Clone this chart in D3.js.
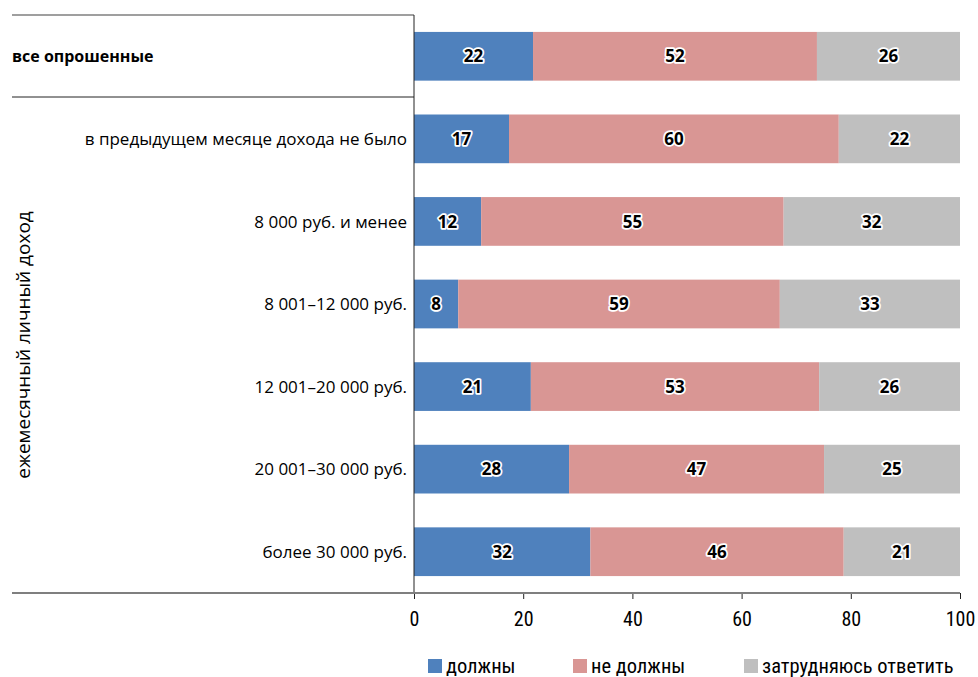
<!DOCTYPE html>
<html>
<head>
<meta charset="utf-8">
<script src="https://cdn.jsdelivr.net/npm/d3@7"></script>
<style>
  body { margin: 0; background: #fff; }
  text { font-family: "Open Sans", "Noto Sans", sans-serif; }
  .narrow { font-family: "Liberation Sans Narrow", "Roboto Condensed", sans-serif; }
</style>
</head>
<body>
<div class="chart"></div>
<script>
// categories (top to bottom)
const categories = [
  "все опрошенные",
  "в предыдущем месяце дохода не было",
  "8 000 руб. и менее",
  "8 001–12 000 руб.",
  "12 001–20 000 руб.",
  "20 001–30 000 руб.",
  "более 30 000 руб."
];
const seriesNames = ["должны", "не должны", "затрудняюсь ответить"];
const dolzhny    = [21.8, 17.4, 12.3, 8.1, 21.4, 28.4, 32.3];
const neDolzhny  = [52.0, 60.4, 55.4, 58.9, 52.8, 46.7, 46.4];
const zatrudn    = [26.2, 22.2, 32.3, 33.0, 25.8, 24.9, 21.3];
const xTicks = [0, 20, 40, 60, 80, 100];
const groupLabel = "ежемесячный личный доход";

const colors = ["#4f81bd", "#d99694", "#bfbfbf"];

const W = 978, H = 677;
const x0 = 414, x1 = 960, yTop = 15, yBot = 593;

const svg = d3.select(".chart")
  .append("svg")
    .attr("width", W)
    .attr("height", H);

const x = d3.scaleLinear().domain([0, 100]).range([x0, x1]);
const y = d3.scaleBand().domain(categories).range([yTop, yBot]).paddingInner(0.41).paddingOuter(0.205);

// build stacked data
const rows = categories.map((c, i) => ({cat: c, a: dolzhny[i], b: neDolzhny[i], c: zatrudn[i]}));
const stack = d3.stack().keys(["a", "b", "c"])(rows);

// bars
stack.forEach((layer, li) => {
  svg.append("g")
    .selectAll("rect")
    .data(layer)
    .enter()
    .append("rect")
      .attr("x", d => x(d[0]))
      .attr("y", d => y(d.data.cat))
      .attr("width", d => x(d[1]) - x(d[0]))
      .attr("height", y.bandwidth())
      .attr("fill", colors[li]);
});

// value labels with white halo
stack.forEach((layer) => {
  svg.append("g")
    .selectAll("text")
    .data(layer)
    .enter()
    .append("text")
      .attr("x", d => x((d[0] + d[1]) / 2))
      .attr("y", d => y(d.data.cat) + y.bandwidth() / 2)
      .attr("dy", "0.36em")
      .attr("text-anchor", "middle")
      .style("font-size", "17px")
      .style("font-weight", "bold")
      .style("fill", "#000")
      .style("stroke", "#fff")
      .style("stroke-width", "3.5px")
      .style("stroke-linejoin", "round")
      .style("paint-order", "stroke")
      .text(d => d3.format(".0f")(d[1] - d[0]));
});

// frame lines
svg.append("line")
  .attr("x1", 12).attr("x2", x0).attr("y1", yTop).attr("y2", yTop)
  .attr("stroke", "#7f7f7f").attr("stroke-width", 1.5);
svg.append("line")
  .attr("x1", 12).attr("x2", x0).attr("y1", 97).attr("y2", 97)
  .attr("stroke", "#222").attr("stroke-width", 1);
svg.append("line")
  .attr("x1", x0).attr("x2", x0).attr("y1", yTop).attr("y2", yBot)
  .attr("stroke", "#222").attr("stroke-width", 1);

// x axis
const xAxis = svg.append("g")
  .attr("transform", "translate(0," + yBot + ")")
  .call(d3.axisBottom(x).tickValues(xTicks).tickSize(6).tickPadding(13));
xAxis.select(".domain").remove();
xAxis.selectAll(".tick line").attr("stroke", "#222");
xAxis.selectAll("text")
  .attr("class", "narrow")
  .style("font-size", "20px")
  .style("fill", "#000");
svg.append("line")
  .attr("x1", 12).attr("x2", x1).attr("y1", yBot).attr("y2", yBot)
  .attr("stroke", "#7f7f7f").attr("stroke-width", 2);

// category labels
svg.append("g")
  .selectAll("text")
  .data(categories)
  .enter()
  .append("text")
    .attr("x", (d, i) => i === 0 ? 12 : 407)
    .attr("y", d => y(d) + y.bandwidth() / 2)
    .attr("dy", "0.36em")
    .attr("text-anchor", (d, i) => i === 0 ? "start" : "end")
    .style("font-size", (d, i) => i === 0 ? "16px" : "17px")
    .style("font-weight", (d, i) => i === 0 ? "bold" : "normal")
    .style("fill", "#000")
    .text(d => d);

// rotated group label
svg.append("text")
  .attr("transform", "translate(30," + ((97 + yBot) / 2) + ") rotate(-90)")
  .attr("text-anchor", "middle")
  .style("font-size", "19px")
  .style("fill", "#000")
  .text(groupLabel);

// legend
const legendX = [428, 573, 744];
const legend = svg.append("g")
  .selectAll("g")
  .data(seriesNames)
  .enter()
  .append("g")
    .attr("transform", (d, i) => "translate(" + legendX[i] + ",659)");
legend.append("rect")
  .attr("width", 14).attr("height", 14)
  .attr("fill", (d, i) => colors[i]);
legend.append("text")
  .attr("class", "narrow")
  .attr("x", 18)
  .attr("y", 14)
  .style("font-size", "20.5px")
  .style("fill", "#000")
  .text(d => d);
</script>
</body>
</html>
